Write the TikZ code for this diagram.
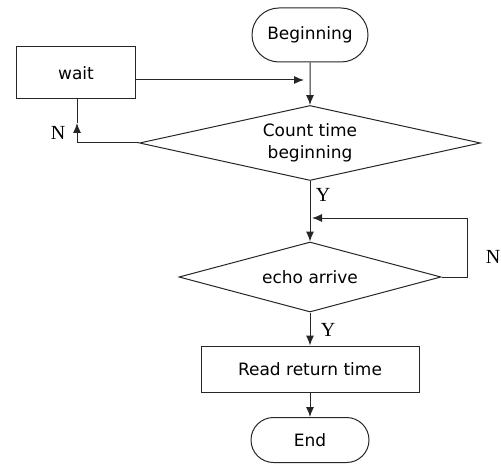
\documentclass[tikz,border=0pt]{standalone}
\usepackage{fontspec}
\setmainfont{DejaVu Sans}
\newfontfamily\ynfont{Liberation Serif}
\usetikzlibrary{shapes.geometric, shapes.misc, arrows.meta}

\begin{document}
\begin{tikzpicture}[x = 0.5pt, y = -0.5pt, line width = 0.5pt, draw = black!85,
    every node/.style = {font = \fontsize{8.5}{11}\selectfont},
    terminal/.style = {rounded rectangle, draw = black!85, inner sep = 0pt},
    process/.style = {rectangle, draw = black!85, inner sep = 0pt},
    decision/.style = {diamond, draw = black!85, inner sep = 0pt, align = center},
    yn/.style = {font = \ynfont\fontsize{10}{12}\selectfont},
    arrow/.style = {-{Latex[length = 5pt, width = 4pt]}}]
  \useasboundingbox (0,0) rectangle (501,464);

  % boxes
  \node[terminal, minimum width = 58pt, minimum height = 27pt] (begin) at (310,35) {Beginning};
  \node[process, minimum width = 59.5pt, minimum height = 26pt] (wait) at (76,73) {wait};
  \node[decision, aspect = 4.5, minimum width = 170.5pt, minimum height = 37.5pt] (count) at (310,143) {Count time\\beginning};
  \node[decision, aspect = 3.7, minimum width = 131pt, minimum height = 35pt] (echo) at (310,277) {echo arrive};
  \node[process, minimum width = 109pt, minimum height = 23pt] (read) at (310,369) {Read return time};
  \node[terminal, minimum width = 59pt, minimum height = 22.5pt] (end) at (310,440) {End};

  % join points
  \coordinate (join1) at (304,80);
  \coordinate (nmark) at (77,123);
  \coordinate (back) at (467,218);
  \coordinate (join2) at (312,218);

  % connectors
  \draw[arrow] (begin) -- (count);
  \draw[arrow] (wait.east |- join1) -- (join1);
  \draw[arrow] (count.west) -| (nmark);
  \draw (nmark) -- (nmark |- wait.south);
  \draw[arrow] (count.south) -- (echo.north);
  \draw[arrow] (echo.east) -| (back) -- (join2);
  \draw[arrow] (echo.south) -- (read.north);
  \draw[arrow] (read.south) -- (end.north);

  % labels
  \node[yn] (n1) at (58,133) {N};
  \node[yn] (y1) at (323,195) {Y};
  \node[yn] (n2) at (493,257) {N};
  \node[yn] (y2) at (328,330) {Y};
\end{tikzpicture}
\end{document}
